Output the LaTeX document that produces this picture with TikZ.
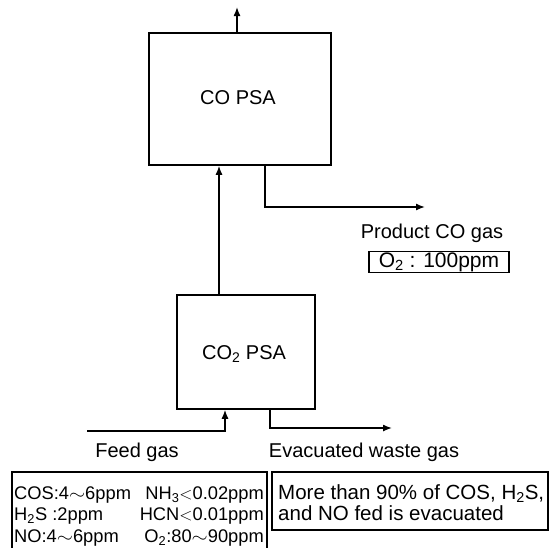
\documentclass[tikz,border=0pt]{standalone}
\usepackage{fontspec}
\usepackage{graphicx}
\setmainfont{Liberation Sans}
\usetikzlibrary{arrows.meta}
\newcommand{\wave}{\scalebox{1.2}[1]{$\sim$}}
\begin{document}
\begin{tikzpicture}[x=1pt,y=-1pt,
  unit/.style={draw, line width=1.5pt, inner sep=0pt},
  flow/.style={line width=1.4pt, -{Latex[length=9pt,width=7pt]}},
  lbl/.style={font=\fontsize{20}{24}\selectfont, inner sep=0pt, anchor=base},
  tbl/.style={font=\fontsize{18.3}{22}\selectfont, inner sep=0pt, anchor=base west},
  tblr/.style={font=\fontsize{18.3}{22}\selectfont, inner sep=0pt, anchor=base east},
  note/.style={font=\fontsize{20.5}{22}\selectfont, inner sep=0pt, anchor=base west},
  frame/.style={line width=1.2pt}]
\useasboundingbox (0,0) rectangle (553,547);

% units
\node[unit, minimum width=182pt, minimum height=132pt] (co) at (240,99) {};
\node[lbl] (cot) at (238,104) {CO PSA};
\node[unit, minimum width=138pt, minimum height=114pt] (co2) at (246,352) {};
\node[lbl] (co2t) at (244,359) {CO\textsubscript{2} PSA};

% free ends
\coordinate (top) at (237,7);
\coordinate (cx) at (219,0);
\coordinate (px) at (265,0);
\coordinate (ptip) at (425,207);
\coordinate (feed) at (87,431);
\coordinate (fx) at (225,0);
\coordinate (ex) at (270,0);
\coordinate (etip) at (392,428);

% connectors
\draw[flow] (co.north -| top) -- (top);
\draw[flow] (co2.north -| cx) -- (co.south -| cx);
\draw[flow] (co.south -| px) |- (ptip);
\draw[flow] (feed) -| (co2.south -| fx);
\draw[flow] (co2.south -| ex) |- (etip);

% labels
\node[lbl] (prod) at (432,238) {Product CO gas};
\node[draw, frame, minimum width=140pt, minimum height=21pt, inner sep=0pt,
      font=\fontsize{21}{22}\selectfont] (o2) at (439,262) {O\textsubscript{2} : 100ppm};
\node[lbl] (feedl) at (137,457) {Feed gas};
\node[lbl] (evl) at (364,457) {Evacuated waste gas};

% left table (bottom cut off)
\coordinate (tl) at (12,472);
\coordinate (tr) at (267,472);
\draw[frame] (12,550) -- (tl) -- (tr) -- (267,550);
\node[tbl]  (r1a) at (14,499) {COS:4\wave6ppm};
\node[tblr] (r1b) at (264,499) {NH\textsubscript{3}$<$0.02ppm};
\node[tbl]  (r2a) at (14,520) {H\textsubscript{2}S :2ppm};
\node[tblr] (r2b) at (264,520) {HCN$<$0.01ppm};
\node[tbl]  (r3a) at (14,542) {NO:4\wave6ppm};
\node[tblr] (r3b) at (264,542) {O\textsubscript{2}:80\wave90ppm};

% right note
\draw[frame] (272,472) rectangle (548,530);
\node[note] (n1) at (278,499) {More than 90\% of COS, H\textsubscript{2}S,};
\node[note] (n2) at (278,520) {and NO fed is evacuated};
\end{tikzpicture}
\end{document}
